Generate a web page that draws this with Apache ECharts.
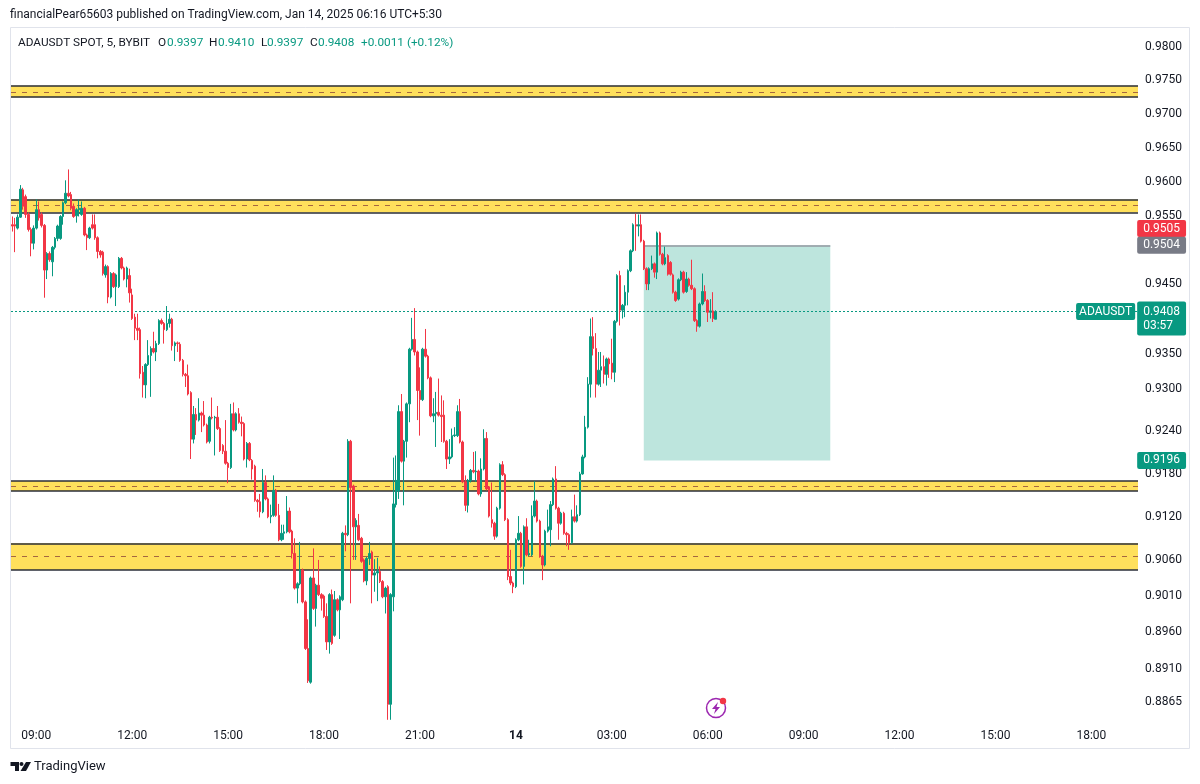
<!DOCTYPE html>
<html>
<head>
<meta charset="utf-8">
<title>ADAUSDT 5m</title>
<style>
    html, body { margin: 0; padding: 0; background: #fff; }
    #chart { width: 1200px; height: 784px; }
</style>
<script src="https://cdn.jsdelivr.net/npm/echarts@6/dist/echarts.min.js"></script>
</head>
<body>
<div id="chart"></div>
<script>
// 5 minute bars, first one 08:15
const opens = [
    0.9534,0.9534,0.9529,0.9545,0.9585,0.9575,0.9549,0.9527,0.9507,0.9529,
    0.9556,0.9549,0.9533,0.9468,0.9492,0.9480,0.9501,0.9514,0.9514,0.9546,
    0.9566,0.9580,0.9578,0.9561,0.9547,0.9556,0.9549,0.9558,0.9519,0.9515,
    0.9534,0.9534,0.9515,0.9495,0.9494,0.9461,0.9473,0.9429,0.9463,0.9444,
    0.9444,0.9485,0.9471,0.9455,0.9460,0.9432,0.9400,0.9384,0.9382,0.9321,
    0.9303,0.9332,0.9345,0.9355,0.9350,0.9362,0.9395,0.9391,0.9382,0.9391,
    0.9397,0.9359,0.9363,0.9361,0.9338,0.9318,0.9316,0.9292,0.9226,0.9261,
    0.9253,0.9263,0.9260,0.9246,0.9223,0.9257,0.9256,0.9257,0.9241,0.9217,
    0.9209,0.9192,0.9186,0.9262,0.9239,0.9262,0.9250,0.9248,0.9198,0.9220,
    0.9196,0.9188,0.9140,0.9138,0.9124,0.9165,0.9142,0.9117,0.9119,0.9154,
    0.9119,0.9085,0.9094,0.9096,0.9125,0.9097,0.9066,0.9018,0.9024,0.9043,
    0.8999,0.8935,0.8889,0.9032,0.8990,0.9022,0.9009,0.9007,0.8979,0.8944,
    0.9009,0.8953,0.9002,0.8988,0.9002,0.9094,0.9092,0.9223,0.9160,0.9103,
    0.9105,0.9087,0.9057,0.9028,0.9059,0.9068,0.9036,0.9039,0.9041,0.9027,
    0.9006,0.9020,0.8859,0.9006,0.9134,0.9153,0.9265,0.9195,0.9223,0.9276,
    0.9354,0.9368,0.9350,0.9295,0.9282,0.9354,0.9344,0.9313,0.9259,0.9262,
    0.9264,0.9260,0.9260,0.9223,0.9198,0.9201,0.9231,0.9231,0.9265,0.9222,
    0.9166,0.9133,0.9168,0.9182,0.9180,0.9181,0.9149,0.9184,0.9227,0.9159,
    0.9113,0.9108,0.9090,0.9129,0.9190,0.9176,0.9113,0.9034,0.9025,0.9020,
    0.9085,0.9094,0.9048,0.9103,0.9064,0.9064,0.9118,0.9139,0.9111,0.9062,
    0.9050,0.9097,0.9099,0.9134,0.9170,0.9129,0.9108,0.9122,0.9094,0.9092,
    0.9081,0.9117,0.9111,0.9120,0.9177,0.9201,0.9243,0.9304,0.9372,0.9355,
    0.9304,0.9324,0.9329,0.9318,0.9340,0.9334,0.9321,0.9394,0.9460,0.9410,
    0.9417,0.9436,0.9467,0.9496,0.9534,0.9532,0.9534,0.9510,0.9470,0.9448,
    0.9470,0.9477,0.9465,0.9522,0.9491,0.9477,0.9489,0.9479,0.9461,0.9436,
    0.9426,0.9454,0.9465,0.9437,0.9455,0.9446,0.9441,0.9395,0.9387,0.9419,
    0.9437,0.9424,0.9407,0.9409,0.9397
]
const closes = [
    0.9532,0.9532,0.9545,0.9586,0.9561,0.9549,0.9527,0.9507,0.9529,0.9556,
    0.9544,0.9533,0.9468,0.9492,0.9483,0.9501,0.9514,0.9532,0.9546,0.9566,
    0.9580,0.9576,0.9558,0.9546,0.9556,0.9558,0.9558,0.9519,0.9515,0.9529,
    0.9529,0.9515,0.9495,0.9490,0.9463,0.9473,0.9429,0.9463,0.9444,0.9461,
    0.9485,0.9471,0.9455,0.9471,0.9435,0.9398,0.9384,0.9381,0.9319,0.9303,
    0.9332,0.9345,0.9355,0.9350,0.9362,0.9395,0.9391,0.9382,0.9391,0.9397,
    0.9359,0.9363,0.9362,0.9338,0.9318,0.9316,0.9290,0.9226,0.9261,0.9253,
    0.9263,0.9260,0.9246,0.9222,0.9257,0.9256,0.9257,0.9241,0.9210,0.9209,
    0.9192,0.9186,0.9262,0.9239,0.9262,0.9250,0.9248,0.9198,0.9220,0.9197,
    0.9184,0.9140,0.9138,0.9124,0.9165,0.9142,0.9117,0.9119,0.9154,0.9119,
    0.9085,0.9094,0.9096,0.9125,0.9096,0.9066,0.9018,0.9024,0.9043,0.8999,
    0.8935,0.8891,0.9032,0.8990,0.9022,0.9009,0.9004,0.8979,0.8944,0.9009,
    0.8942,0.9002,0.8988,0.9006,0.9094,0.9092,0.9223,0.9158,0.9103,0.9112,
    0.9085,0.9055,0.9028,0.9059,0.9066,0.9036,0.9039,0.9041,0.9027,0.9006,
    0.9018,0.8859,0.9009,0.9135,0.9168,0.9265,0.9195,0.9223,0.9276,0.9354,
    0.9368,0.9350,0.9295,0.9282,0.9354,0.9344,0.9313,0.9259,0.9262,0.9264,
    0.9260,0.9258,0.9223,0.9198,0.9201,0.9231,0.9232,0.9265,0.9222,0.9166,
    0.9133,0.9168,0.9182,0.9180,0.9181,0.9149,0.9184,0.9227,0.9156,0.9118,
    0.9108,0.9090,0.9129,0.9190,0.9176,0.9113,0.9034,0.9025,0.9020,0.9085,
    0.9094,0.9048,0.9103,0.9064,0.9066,0.9118,0.9139,0.9111,0.9062,0.9050,
    0.9097,0.9103,0.9134,0.9170,0.9129,0.9108,0.9122,0.9094,0.9092,0.9081,
    0.9117,0.9111,0.9120,0.9177,0.9201,0.9243,0.9304,0.9372,0.9355,0.9304,
    0.9324,0.9329,0.9318,0.9340,0.9333,0.9321,0.9394,0.9460,0.9410,0.9417,
    0.9436,0.9467,0.9496,0.9534,0.9532,0.9534,0.9510,0.9470,0.9448,0.9470,
    0.9477,0.9465,0.9522,0.9491,0.9477,0.9486,0.9462,0.9462,0.9436,0.9424,
    0.9454,0.9465,0.9436,0.9455,0.9446,0.9441,0.9395,0.9387,0.9419,0.9437,
    0.9424,0.9407,0.9409,0.9398,0.9408
]
const lows = [
    0.9524,0.9494,0.9527,0.9544,0.9556,0.9544,0.9524,0.9488,0.9498,0.9527,
    0.9540,0.9530,0.9428,0.9455,0.9480,0.9459,0.9498,0.9510,0.9512,0.9534,
    0.9564,0.9574,0.9555,0.9544,0.9537,0.9546,0.9547,0.9517,0.9497,0.9513,
    0.9527,0.9512,0.9485,0.9486,0.9460,0.9457,0.9420,0.9427,0.9442,0.9416,
    0.9442,0.9469,0.9453,0.9443,0.9421,0.9396,0.9367,0.9367,0.9312,0.9285,
    0.9284,0.9330,0.9286,0.9348,0.9337,0.9360,0.9389,0.9362,0.9380,0.9385,
    0.9352,0.9337,0.9350,0.9336,0.9315,0.9300,0.9288,0.9198,0.9220,0.9232,
    0.9251,0.9236,0.9244,0.9220,0.9220,0.9254,0.9203,0.9239,0.9208,0.9205,
    0.9190,0.9164,0.9184,0.9237,0.9237,0.9248,0.9230,0.9196,0.9186,0.9195,
    0.9169,0.9138,0.9124,0.9116,0.9122,0.9140,0.9115,0.9108,0.9117,0.9117,
    0.9083,0.9083,0.9085,0.9094,0.9094,0.9059,0.9016,0.8997,0.9022,0.8997,
    0.8933,0.8888,0.8887,0.8988,0.8965,0.9007,0.8987,0.8977,0.8933,0.8928,
    0.8940,0.8951,0.8986,0.8948,0.9000,0.9069,0.9090,0.8997,0.9057,0.9057,
    0.9083,0.9053,0.9026,0.9022,0.9050,0.8997,0.9013,0.9000,0.9025,0.9004,
    0.8983,0.8838,0.8838,0.8986,0.9130,0.9142,0.9193,0.9133,0.9200,0.9250,
    0.9352,0.9345,0.9253,0.9231,0.9280,0.9342,0.9311,0.9257,0.9250,0.9215,
    0.9258,0.9222,0.9221,0.9184,0.9191,0.9199,0.9229,0.9229,0.9220,0.9164,
    0.9125,0.9123,0.9165,0.9178,0.9166,0.9147,0.9145,0.9182,0.9154,0.9116,
    0.9102,0.9085,0.9088,0.9127,0.9174,0.9111,0.9029,0.9022,0.9011,0.9018,
    0.9083,0.9046,0.9023,0.9062,0.9062,0.9062,0.9116,0.9109,0.9060,0.9029,
    0.9048,0.9095,0.9076,0.9132,0.9127,0.9085,0.9106,0.9092,0.9076,0.9071,
    0.9079,0.9109,0.9109,0.9118,0.9176,0.9199,0.9241,0.9285,0.9345,0.9285,
    0.9302,0.9300,0.9305,0.9302,0.9313,0.9311,0.9307,0.9392,0.9388,0.9398,
    0.9400,0.9417,0.9465,0.9494,0.9496,0.9517,0.9508,0.9468,0.9439,0.9439,
    0.9468,0.9457,0.9455,0.9489,0.9475,0.9475,0.9460,0.9460,0.9434,0.9422,
    0.9424,0.9452,0.9434,0.9435,0.9444,0.9439,0.9393,0.9379,0.9385,0.9417,
    0.9422,0.9393,0.9398,0.9393,0.9397
]
const highs = [
    0.9546,0.9544,0.9549,0.9592,0.9588,0.9578,0.9552,0.9530,0.9533,0.9571,
    0.9568,0.9552,0.9535,0.9494,0.9495,0.9503,0.9516,0.9534,0.9548,0.9568,
    0.9599,0.9615,0.9582,0.9565,0.9558,0.9571,0.9568,0.9560,0.9521,0.9531,
    0.9549,0.9549,0.9517,0.9497,0.9496,0.9476,0.9475,0.9465,0.9465,0.9463,
    0.9487,0.9487,0.9473,0.9473,0.9470,0.9441,0.9405,0.9405,0.9385,0.9330,
    0.9334,0.9367,0.9358,0.9379,0.9366,0.9397,0.9398,0.9393,0.9416,0.9405,
    0.9399,0.9365,0.9365,0.9364,0.9340,0.9320,0.9332,0.9294,0.9273,0.9270,
    0.9284,0.9265,0.9280,0.9248,0.9259,0.9285,0.9259,0.9273,0.9243,0.9219,
    0.9253,0.9194,0.9276,0.9278,0.9264,0.9270,0.9258,0.9250,0.9222,0.9222,
    0.9198,0.9190,0.9142,0.9149,0.9184,0.9175,0.9144,0.9134,0.9175,0.9156,
    0.9135,0.9106,0.9106,0.9146,0.9130,0.9099,0.9087,0.9026,0.9082,0.9045,
    0.9001,0.8975,0.9034,0.9073,0.9024,0.9057,0.9011,0.9009,0.8997,0.9011,
    0.9016,0.9014,0.9004,0.9008,0.9096,0.9105,0.9226,0.9225,0.9162,0.9115,
    0.9121,0.9089,0.9059,0.9061,0.9082,0.9070,0.9058,0.9060,0.9048,0.9029,
    0.9020,0.9022,0.9011,0.9200,0.9203,0.9274,0.9290,0.9225,0.9278,0.9356,
    0.9399,0.9413,0.9352,0.9328,0.9356,0.9383,0.9346,0.9315,0.9284,0.9293,
    0.9312,0.9288,0.9281,0.9225,0.9226,0.9241,0.9243,0.9274,0.9283,0.9224,
    0.9175,0.9170,0.9184,0.9208,0.9209,0.9183,0.9199,0.9240,0.9236,0.9158,
    0.9165,0.9110,0.9131,0.9192,0.9195,0.9178,0.9115,0.9071,0.9027,0.9087,
    0.9118,0.9096,0.9105,0.9115,0.9085,0.9133,0.9167,0.9141,0.9113,0.9064,
    0.9099,0.9127,0.9139,0.9172,0.9188,0.9131,0.9124,0.9124,0.9096,0.9094,
    0.9127,0.9148,0.9133,0.9180,0.9204,0.9259,0.9314,0.9398,0.9400,0.9377,
    0.9350,0.9350,0.9345,0.9342,0.9342,0.9369,0.9396,0.9462,0.9467,0.9419,
    0.9446,0.9469,0.9498,0.9536,0.9550,0.9549,0.9549,0.9512,0.9472,0.9472,
    0.9489,0.9479,0.9524,0.9524,0.9493,0.9502,0.9491,0.9481,0.9463,0.9438,
    0.9456,0.9467,0.9467,0.9465,0.9457,0.9483,0.9443,0.9397,0.9421,0.9463,
    0.9446,0.9426,0.9426,0.9436,0.9410
]

// 轴标签
const timeLabels = ['09:00', '12:00', '15:00', '18:00', '21:00', '14', '03:00', '06:00', '09:00', '12:00', '15:00', '18:00']
const priceLabels = [0.98, 0.975, 0.97, 0.965, 0.96, 0.955, 0.945, 0.935, 0.93, 0.924, 0.918, 0.912, 0.906, 0.901, 0.896, 0.891, 0.8865]

// 黄色区间
const bandTops = [0.9739, 0.9571, 0.9167, 0.9080]
const bandBottoms = [0.9722, 0.9552, 0.9153, 0.9043]
const bandMids = [0.9730, 0.9562, 0.9160, 0.9062]

// short position box
const boxEntry = 0.9504
const boxTarget = 0.9196
const lastPrice = 0.9408
const slotCount = 423

const up = '#089981'
const down = '#f23645'
const ink = '#131722'
const uiFont = 'Roboto, sans-serif'

// one slot per bar, the future ones stay empty, a label every 36 bars
const categories = []
for (let i = 0; i < slotCount; i++) {
    categories.push('bar' + i)
}
function tickText(index) {
    const k = (index - 9) / 36
    return Number.isInteger(k) && timeLabels[k] ? timeLabels[k] : ''
}

const candles = opens.map((o, i) => [o, closes[i], lows[i], highs[i]])

// 价格标签
function tag(price, color) {
    return {
        value: [slotCount - 1, price],
        label: {
            show: true,
            position: 'right',
            distance: 0,
            formatter: price.toFixed(4),
            color: '#fff',
            fontFamily: uiFont,
            fontSize: 12,
            backgroundColor: color,
            padding: [3, 6, 2, 6],
            borderRadius: 2
        }
    }
}
const tagData = [
    tag(0.9505, down),
    tag(boxEntry, '#787b86'),
    tag(boxTarget, up),
    tag(lastPrice, up)
]
tagData[0].label.offset = [0, -16]
tagData[3].label.formatter = lastPrice.toFixed(4) + '\n03:57'
tagData[3].label.lineHeight = 14
tagData[3].label.padding = [3, 6, 3, 6]
tagData[3].label.offset = [0, 7]
tagData.push({
    value: [slotCount - 1, lastPrice],
    label: {
        show: true,
        position: 'left',
        distance: 1,
        formatter: 'ADAUSDT',
        color: '#fff',
        fontFamily: uiFont,
        fontSize: 12,
        backgroundColor: up,
        padding: [3, 3, 2, 3],
        borderRadius: 2
    }
})

const bandLines = []
bandTops.forEach((v) => bandLines.push({ yAxis: v, lineStyle: { color: '#2a2e39', width: 1.5, type: 'solid' } }))
bandBottoms.forEach((v) => bandLines.push({ yAxis: v, lineStyle: { color: '#2a2e39', width: 1.5, type: 'solid' } }))
bandMids.forEach((v) => bandLines.push({ yAxis: v, lineStyle: { color: '#a5673f', width: 1, type: [5, 6] } }))
bandLines.push({ yAxis: lastPrice, lineStyle: { color: up, width: 1, type: [2, 2] } })

const legendParts = [
    { text: 'ADAUSDT SPOT, 5, BYBIT', x: 18, color: ink },
    { text: 'O', x: 158, color: ink }, { text: '0.9397', x: 167, color: up },
    { text: 'H', x: 209, color: ink }, { text: '0.9410', x: 218, color: up },
    { text: 'L', x: 261, color: ink }, { text: '0.9397', x: 267, color: up },
    { text: 'C', x: 310, color: ink }, { text: '0.9408', x: 318, color: up },
    { text: '+0.0011 (+0.12%)', x: 361, color: up }
]

const option = {
    animation: false,
    backgroundColor: '#fff',
    grid: { left: 11, right: 62, top: 28, bottom: 62 },
    xAxis: {
        type: 'category',
        data: categories,
        boundaryGap: true,
        axisLine: { show: false },
        axisTick: { show: false },
        splitLine: { show: false },
        axisLabel: {
            interval: (index) => tickText(index) !== '',
            formatter: (value, index) => {
                const t = tickText(index)
                return t === '14' ? '{b|14}' : t
            },
            rich: { b: { fontWeight: 'bold', color: ink, fontFamily: uiFont, fontSize: 12 } },
            color: ink,
            fontFamily: uiFont,
            fontSize: 12,
            margin: 8,
            hideOverlap: false
        }
    },
    yAxis: {
        type: 'log',
        logBase: 10,
        position: 'right',
        min: 0.8835,
        max: 0.98255,
        axisLine: { show: false },
        axisTick: { show: false },
        splitLine: { show: false },
        minorSplitLine: { show: false },
        axisLabel: {
            customValues: priceLabels,
            // 文字下移一点，和原图对齐
            formatter: (v) => '{p|' + Number(v).toFixed(4) + '}',
            rich: { p: { color: ink, fontFamily: uiFont, fontSize: 12, padding: [4, 0, 0, 0] } },
            margin: 7
        }
    },
    series: [
        {
            type: 'candlestick',
            data: candles,
            barWidth: 2,
            z: 3,
            itemStyle: {
                color: up,
                color0: down,
                borderColor: up,
                borderColor0: down,
                borderWidth: 1
            },
            markArea: {
                silent: true,
                z: 1,
                data: bandTops.map((v, i) => [
                    { yAxis: v, itemStyle: { color: '#ffe05c', opacity: 1 } },
                    { yAxis: bandBottoms[i] }
                ]).concat([[
                    { xAxis: 237, yAxis: boxEntry, itemStyle: { color: '#bde5dd', opacity: 1 } },
                    { xAxis: 307, yAxis: boxTarget }
                ]])
            },
            markLine: {
                silent: true,
                z: 2,
                // 默认只保留两位小数
                precision: 4,
                symbol: 'none',
                label: { show: false },
                data: bandLines.concat([[
                    { xAxis: 237, yAxis: boxEntry, lineStyle: { color: '#9598a1', width: 1.5, type: 'solid' } },
                    { xAxis: 307, yAxis: boxEntry }
                ]])
            }
        },
        {
            type: 'scatter',
            data: tagData,
            symbolSize: 1,
            clip: false,
            silent: true,
            z: 6,
            itemStyle: { color: 'transparent', opacity: 1 }
        }
    ],
    title: {
        text: 'financialPear65603 published on TradingView.com, Jan 14, 2025 06:16 UTC+5:30',
        left: 10,
        top: 9,
        padding: 0,
        textStyle: { color: ink, fontFamily: uiFont, fontSize: 12, fontWeight: 'normal' }
    },
    graphic: [
        // 图框
        { type: 'rect', silent: true, z: -1, shape: { x: 10.5, y: 27.5, width: 1179, height: 721 }, style: { fill: 'none', stroke: '#e0e3eb', lineWidth: 1 } },
        // lightning badge
        { type: 'circle', silent: true, shape: { cx: 716, cy: 708, r: 9.5 }, style: { fill: '#fff', stroke: '#9c27b0', lineWidth: 1.5 } },
        { type: 'polygon', silent: true, shape: { points: [[718, 702], [712, 709], [715.5, 709], [714, 714], [720, 707], [716.5, 707]] }, style: { fill: '#9c27b0' } },
        { type: 'circle', silent: true, shape: { cx: 723, cy: 701, r: 3.2 }, style: { fill: '#f23645' } },
        // TradingView logo
        { type: 'polygon', silent: true, shape: { points: [[10.5, 762], [19, 762], [19, 771], [15, 771], [15, 766], [10.5, 766]] }, style: { fill: ink } },
        { type: 'circle', silent: true, shape: { cx: 21.5, cy: 764, r: 2 }, style: { fill: ink } },
        { type: 'polygon', silent: true, shape: { points: [[26, 762], [31, 762], [26, 771], [20.5, 771]] }, style: { fill: ink } },
        { type: 'text', silent: true, x: 34, y: 767, style: { text: 'TradingView', fill: ink, font: '13px ' + uiFont, textVerticalAlign: 'middle' } }
    ].concat(legendParts.map((p) => ({
        type: 'text',
        silent: true,
        x: p.x,
        y: 43,
        style: { text: p.text, fill: p.color, font: '11.8px ' + uiFont, textVerticalAlign: 'middle' }
    })))
}

const cs = echarts.init(document.getElementById('chart'))
cs.setOption(option)
</script>
</body>
</html>
